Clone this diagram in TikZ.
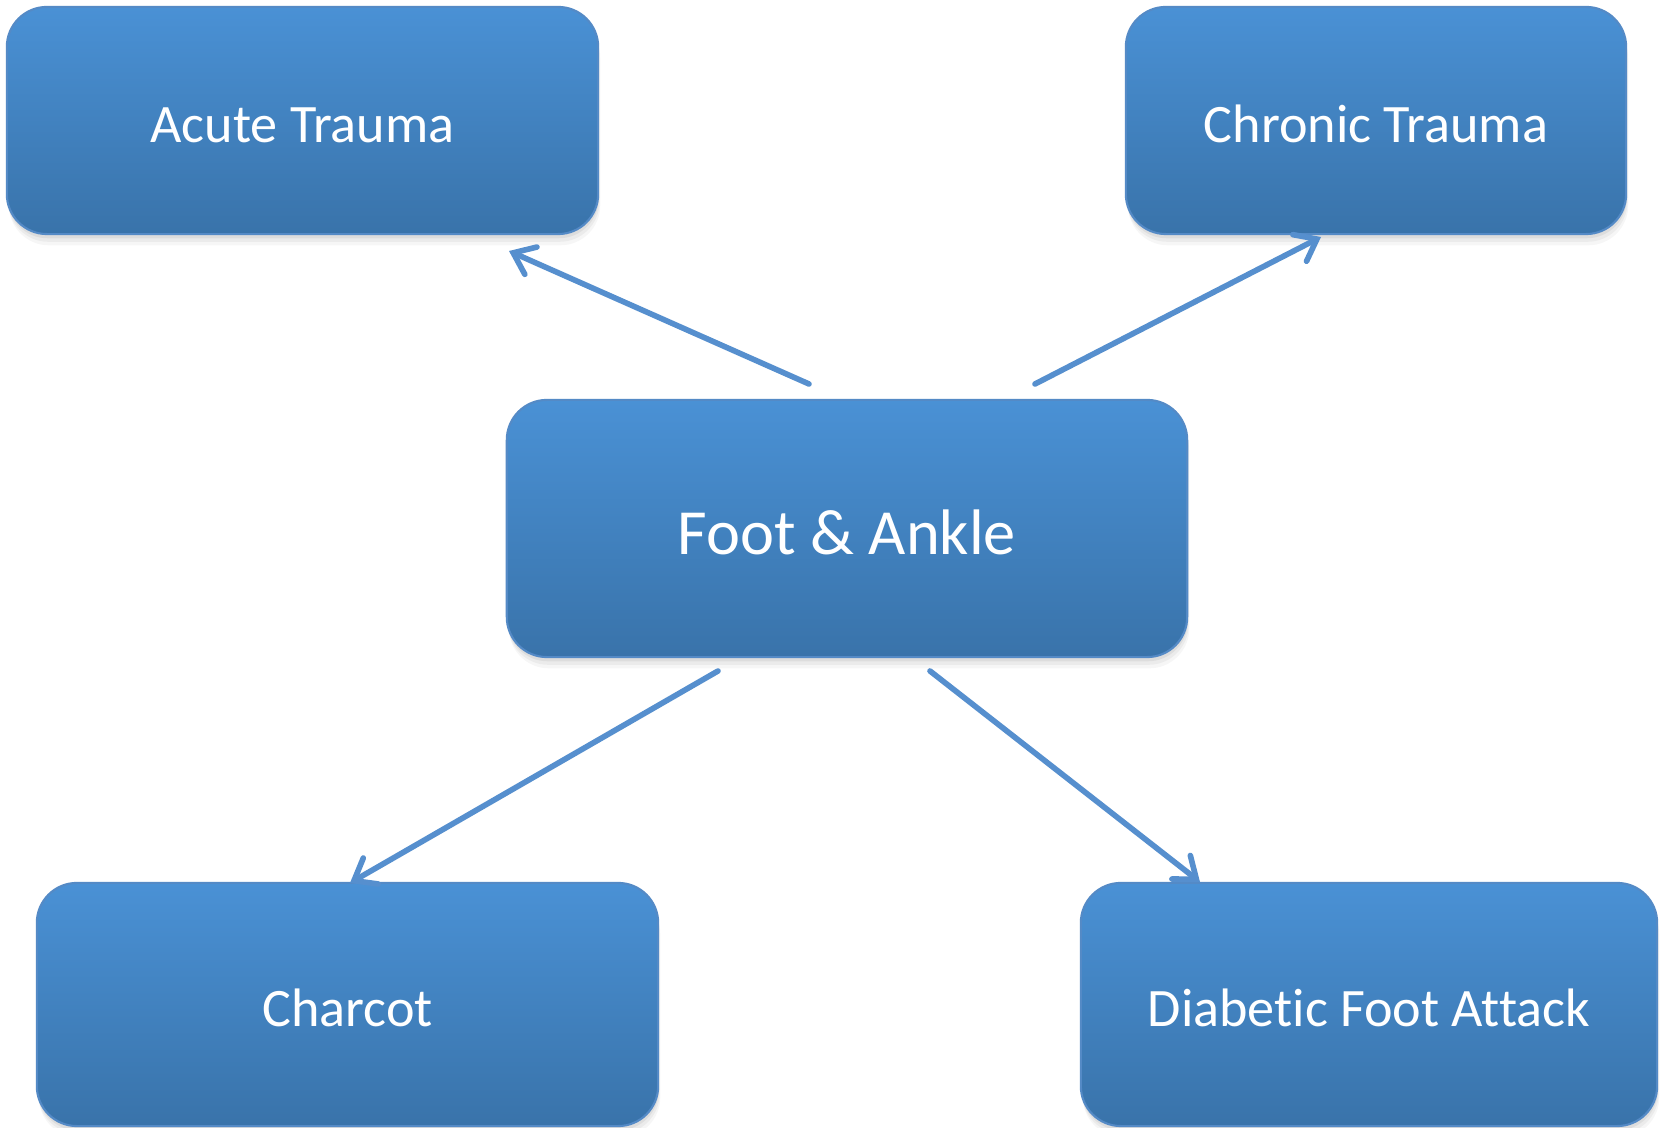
\documentclass[tikz,border=0pt]{standalone}
\usepackage{fontspec}
\setmainfont{Carlito}[Ligatures={NoCommon,NoContextual}]
\usetikzlibrary{arrows.meta,shadows}
\definecolor{boxtop}{RGB}{74,145,213}
\definecolor{boxbot}{RGB}{57,115,170}
\definecolor{boxedge}{RGB}{84,138,198}
\definecolor{arrowc}{RGB}{86,143,206}
\begin{document}
\begin{tikzpicture}[x=0.01cm,y=-0.01cm,
  box/.style={rounded corners=0.4cm, top color=boxtop, bottom color=boxbot,
    draw=boxedge, line width=0.6pt, text=white, inner sep=0pt,
    font=\fontsize{15.4}{18}\selectfont, text height=12.8pt, text depth=0pt,
    drop shadow={opacity=0.07, shadow xshift=0.6pt, shadow yshift=-3.2pt},
    drop shadow={opacity=0.09, shadow xshift=0.4pt, shadow yshift=-2.2pt},
    drop shadow={opacity=0.12, shadow xshift=0.2pt, shadow yshift=-1.2pt}},
  bigbox/.style={box, font=\fontsize{18.3}{22}\selectfont, text height=15pt},
  link/.style={draw=arrowc, line width=1.6pt, line cap=round,
    -{Straight Barb[length=5.5pt,width=8.5pt,line cap=round]}}
]
\useasboundingbox (0,0) rectangle (1665,1128);
\fill[white] (0,0) rectangle (1665,1128);

\node[box, minimum width=5.91cm, minimum height=2.27cm] (acute) at (302.5,120.5) {Acute Trauma};
\node[box, minimum width=5.0cm, minimum height=2.27cm] (chronic) at (1376,120.5) {Chronic Trauma};
\node[bigbox, minimum width=6.8cm, minimum height=2.57cm] (foot) at (847,528.5) {Foot \& Ankle};
\node[box, minimum width=6.21cm, minimum height=2.43cm] (charcot) at (347.5,1004.5) {Charcot};
\node[box, minimum width=5.76cm, minimum height=2.43cm] (diab) at (1369,1004.5) {Diabetic Foot Attack};

\coordinate (s1) at (809,384);  \coordinate (e1) at (509,251);
\coordinate (s2) at (1035,384); \coordinate (e2) at (1321,237);
\coordinate (s3) at (718,671);  \coordinate (e3) at (350,883);
\coordinate (s4) at (930,671);  \coordinate (e4) at (1200,882);

\draw[link] (s1) -- (e1);
\draw[link] (s2) -- (e2);
\draw[link] (s3) -- (e3);
\draw[link] (s4) -- (e4);
\end{tikzpicture}
\end{document}
